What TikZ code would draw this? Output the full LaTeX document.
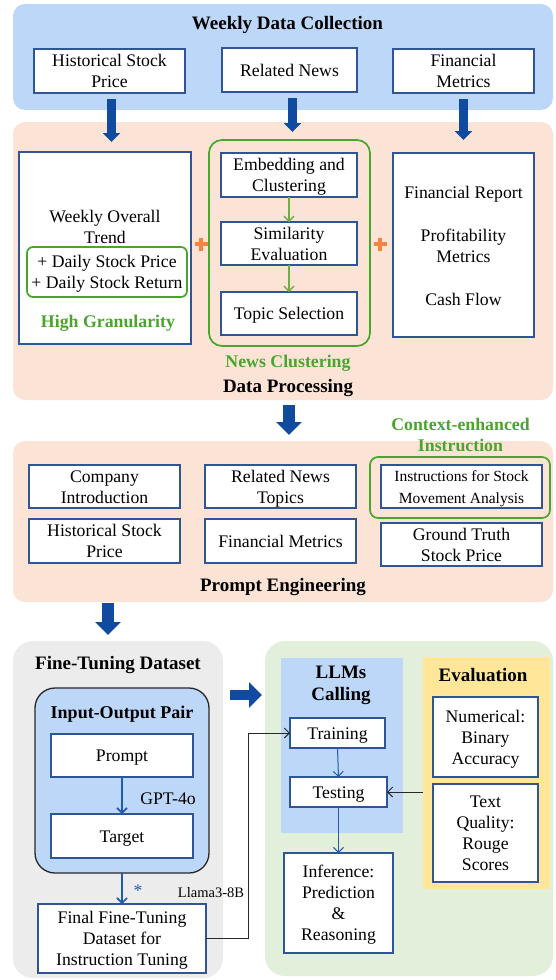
\documentclass[tikz,border=0pt]{standalone}
\usepackage{fontspec}
\setmainfont{Liberation Serif}
\usetikzlibrary{arrows.meta}
\definecolor{pblue}{RGB}{189,215,248}
\definecolor{porange}{RGB}{251,228,214}
\definecolor{pgray}{RGB}{236,236,236}
\definecolor{pgreen}{RGB}{226,239,218}
\definecolor{pyellow}{RGB}{255,230,153}
\definecolor{bord}{RGB}{47,85,151}
\definecolor{abl}{RGB}{16,75,160}
\definecolor{gr}{RGB}{74,165,46}
\definecolor{lgr}{RGB}{112,173,71}
\definecolor{opl}{RGB}{244,132,62}
\definecolor{tbl}{RGB}{33,90,175}
\definecolor{dk}{RGB}{40,40,40}
\newcommand{\ms}{\vrule width 0pt height 16.5pt depth 4.5pt\relax}
\tikzset{
  every node/.style={inner sep=0pt, outer sep=0pt},
  reg/.style={font=\fontsize{17.7}{21}\selectfont, align=center},
  sml/.style={font=\fontsize{15.5}{19}\selectfont, align=center},
  bld/.style={font=\fontsize{19}{22}\selectfont\bfseries, align=center},
  gbld/.style={font=\fontsize{17.8}{21}\selectfont\bfseries, text=gr, align=center},
  box/.style={draw=bord, line width=1.1pt, fill=white, reg},
  panel/.style={rounded corners=12pt},
  bigpanel/.style={rounded corners=20pt},
  gframe/.style={draw=gr, line width=1.7pt},
  bigarrow/.style={draw=abl, line width=9pt, -{Triangle[length=9pt,width=17pt]}},
  bigarrowL/.style={draw=abl, line width=12pt, -{Triangle[length=13pt,width=25pt]}},
  garrow/.style={draw=lgr, line width=1.4pt, -{Straight Barb[length=5pt,width=10pt]}},
  barrow/.style={draw=tbl, line width=1.6pt, -{Straight Barb[length=5pt,width=10pt]}},
  tarrow/.style={draw=tbl, line width=1pt, -{Straight Barb[length=5pt,width=10pt]}},
  conn/.style={draw=dk, line width=1pt, -{Straight Barb[length=5pt,width=10pt]}},
  pluslines/.style={draw=opl, line width=3.5pt}
}
\begin{document}
\begin{tikzpicture}[x=1pt,y=-1pt]
\useasboundingbox (0,0) rectangle (555,980);

% ---------- panels ----------
\node[panel, fill=pblue, minimum width=540pt, minimum height=106pt] (wdc) at (283,57) {};
\node[panel, fill=porange, minimum width=540pt, minimum height=278pt] (dp) at (283,261) {};
\node[panel, fill=porange, minimum width=540pt, minimum height=161pt] (pe) at (283,521.5) {};
\node[bigpanel, fill=pgray, minimum width=210pt, minimum height=337pt] (ftd) at (118,809.5) {};
\node[bigpanel, fill=pgreen, minimum width=288pt, minimum height=335pt] (gp) at (409,808.5) {};

% ---------- weekly data collection ----------
\node[bld] (twdc) at (287.5,23) {\ms Weekly Data Collection\ms};
\node[box, minimum width=151pt, minimum height=44pt] (hsp) at (109.5,71) {\ms Historical Stock\\Price\ms};
\node[box, minimum width=135pt, minimum height=44pt] (rn) at (289.5,70) {\ms Related News\ms};
\node[box, minimum width=141pt, minimum height=44pt] (fm) at (463.5,71) {\ms Financial\\Metrics\ms};

% ---------- data processing ----------
\node[box, minimum width=172pt, minimum height=192pt] (lbox) at (105,248) {};
\node[reg] (wot) at (105,226.5) {\ms Weekly Overall\\Trend\ms};
\node[gframe, rounded corners=6pt, reg, minimum width=160pt, minimum height=50pt] (dsb) at (107,272) {\ms + Daily Stock Price\\+ Daily Stock Return\ms};
\node[gbld] (hg) at (108,321) {\ms High Granularity\ms};

\node[gframe, rounded corners=13pt, minimum width=161pt, minimum height=206pt] (ncb) at (289.5,243) {};
\node[box, minimum width=136pt, minimum height=44pt] (emb) at (289,175) {\ms Embedding and\\Clustering\ms};
\node[box, minimum width=136pt, minimum height=43pt] (sim) at (289,243.5) {\ms Similarity\\Evaluation\ms};
\node[box, minimum width=136pt, minimum height=43pt] (tsel) at (289,313.5) {\ms Topic Selection\ms};
\node[gbld] (ncl) at (288,361) {\ms News Clustering\ms};
\node[bld] (tdp) at (288,386) {\ms Data Processing\ms};

\node[box, minimum width=141pt, minimum height=184pt] (rbox) at (463.5,245) {};
\node[reg] (frp) at (463.5,192) {\ms Financial Report\ms};
\node[reg] (pfm) at (463.5,245.5) {\ms Profitability\\Metrics\ms};
\node[reg] (cfl) at (463.5,299) {\ms Cash Flow\ms};

\path[pluslines] (194.5,244) -- (207.5,244) (201,237.5) -- (201,250.5);
\path[pluslines] (373.5,244) -- (386.5,244) (380,237.5) -- (380,250.5);

\draw[garrow] (emb.south) -- (sim.north);
\draw[garrow] (sim.south) -- (tsel.north);

% ---------- prompt engineering ----------
\node[gbld] (cei) at (460.5,434.5) {\ms Context-enhanced\\Instruction\ms};
\node[gframe, rounded corners=8pt, minimum width=180pt, minimum height=61pt] (cif) at (460,487.5) {};
\node[box, minimum width=151pt, minimum height=43pt] (cin) at (104.5,486.5) {\ms Company\\Introduction\ms};
\node[box, minimum width=151pt, minimum height=43pt] (rnt) at (280.5,486.5) {\ms Related News\\Topics\ms};
\node[box, sml, minimum width=161pt, minimum height=43pt] (ifs) at (461.5,486.5) {\ms Instructions for Stock\\Movement Analysis\ms};
\node[box, minimum width=151pt, minimum height=44pt] (hsp2) at (104.5,541) {\ms Historical Stock\\Price\ms};
\node[box, minimum width=151pt, minimum height=44pt] (fm2) at (280.5,541) {\ms Financial Metrics\ms};
\node[box, minimum width=161pt, minimum height=43pt] (gts) at (461.5,544.5) {\ms Ground Truth\\Stock Price\ms};
\node[bld] (tpe) at (283,585) {\ms Prompt Engineering\ms};

% ---------- fine-tuning dataset ----------
\node[bld] (tftd) at (118,663) {\ms Fine-Tuning Dataset\ms};
\node[draw=dk, line width=1.3pt, rounded corners=20pt, fill=pblue, minimum width=174pt, minimum height=185pt] (iop) at (122,780.5) {};
\node[bld, font=\fontsize{18}{21}\selectfont\bfseries] (tiop) at (122,712) {\ms Input-Output Pair\ms};
\node[box, minimum width=142pt, minimum height=43pt] (prm) at (122,755.5) {\ms Prompt\ms};
\node[box, minimum width=142pt, minimum height=44pt] (tgt) at (122,836) {\ms Target\ms};
\node[reg] (gpt) at (168,798) {\ms GPT-4o\ms};
\node[box, minimum width=168pt, minimum height=69pt] (fin) at (122,938.5) {\ms Final Fine-Tuning\\Dataset for\\Instruction Tuning\ms};
\node[reg, text=tbl] (ast) at (138,890) {\ms *\ms};
\node[font=\fontsize{14.5}{17}\selectfont] (lla) at (211,891) {\ms Llama3-8B\ms};

\draw[barrow] (prm.south) -- (tgt.north);
\draw[barrow] (iop.south) -- (fin.north);

% ---------- LLMs calling / evaluation ----------
\node[fill=pblue, minimum width=122pt, minimum height=175pt] (llm) at (342,745.5) {};
\node[bld] (tllm) at (341,683.5) {\ms LLMs\\Calling\ms};
\node[box, minimum width=95pt, minimum height=30pt] (trn) at (337.5,733) {\ms Training\ms};
\node[box, minimum width=97pt, minimum height=30pt] (tst) at (338.5,792) {\ms Testing\ms};
\node[box, minimum width=109pt, minimum height=100pt] (inf) at (338.5,903) {\ms Inference:\\Prediction\\\&\\Reasoning\ms};

\node[fill=pyellow, minimum width=127pt, minimum height=232pt] (evp) at (486.5,773) {};
\node[bld] (tev) at (483,675) {\ms Evaluation\ms};
\node[box, minimum width=105pt, minimum height=80pt] (num) at (485.5,737) {\ms Numerical:\\Binary\\Accuracy\ms};
\node[box, minimum width=105pt, minimum height=98pt] (tq) at (485.5,833) {\ms Text\\Quality:\\Rouge\\Scores\ms};

\draw[tarrow] (trn.south) -- (tst.north);
\draw[tarrow] (tst.south) -- (inf.north);
\draw[conn] (evp.west |- tst.east) -- (tst.east);
\draw[conn] (fin.east) -- ++(42,0) |- (trn.west);

% ---------- big block arrows ----------
\draw[bigarrow, shorten <=6pt, shorten >=10pt] ([xshift=2pt]hsp.south) -- ([xshift=2pt]hsp.south |- lbox.north);
\draw[bigarrow, shorten <=6pt, shorten >=8pt] ([xshift=3pt]rn.south) -- ([xshift=3pt]rn.south |- ncb.north);
\draw[bigarrow, shorten <=6pt, shorten >=13pt] (fm.south) -- (fm.south |- rbox.north);
\draw[bigarrowL, shorten <=5pt, shorten >=6pt] ([xshift=6pt]dp.south) -- ([xshift=6pt]pe.north);
\draw[bigarrowL, shorten <=1pt, shorten >=6pt] ([xshift=-10pt]ftd.north |- pe.south) -- ([xshift=-10pt]ftd.north);
\coordinate (hy) at (0,695);
\draw[bigarrowL, line width=10pt, shorten <=7pt, shorten >=3pt] (ftd.east |- hy) -- (gp.west |- hy);
\end{tikzpicture}
\end{document}
